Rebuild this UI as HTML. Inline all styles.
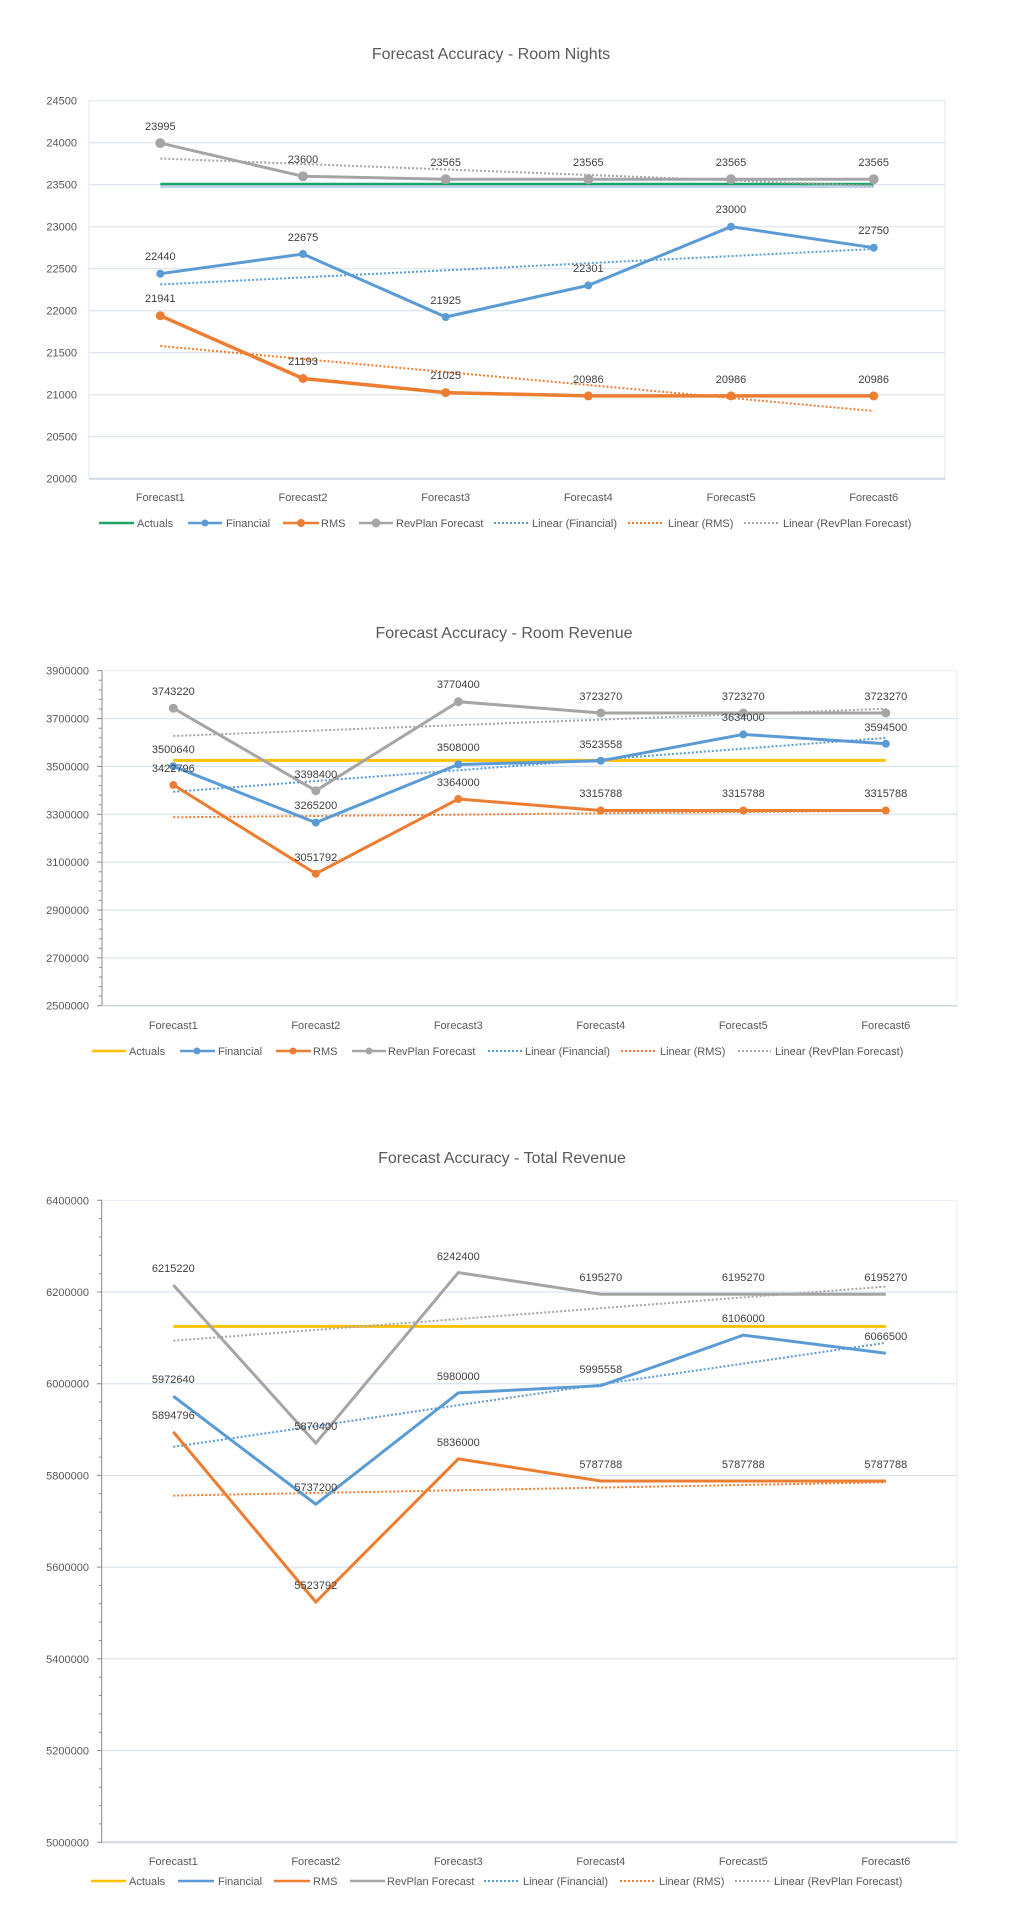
<!DOCTYPE html>
<html><head><meta charset="utf-8"><style>
html,body{margin:0;padding:0;background:#fff}
svg{display:block}
text{font-family:"Liberation Sans",sans-serif}
.t{font-size:16px;fill:#595959;text-anchor:middle}
.ax{font-size:11px;fill:#595959;text-anchor:end}
.cat{font-size:11px;fill:#595959;text-anchor:middle}
.lg{font-size:11px;fill:#595959}
.dl{font-size:11px;fill:#404040;text-anchor:middle}
.g{stroke:#d3dfee;stroke-width:1}
</style></head><body>
<svg width="1026" height="1932" viewBox="0 0 1026 1932" xmlns="http://www.w3.org/2000/svg">
<!-- ===== Chart 1 ===== -->
<text class="t" x="491" y="59">Forecast Accuracy - Room Nights</text>
<rect x="89" y="100.7" width="856" height="378" fill="none" stroke="#dde7f3"/>
<g class="g">
<line x1="89" x2="945" y1="142.7" y2="142.7"/><line x1="89" x2="945" y1="184.7" y2="184.7"/>
<line x1="89" x2="945" y1="226.7" y2="226.7"/><line x1="89" x2="945" y1="268.7" y2="268.7"/>
<line x1="89" x2="945" y1="310.7" y2="310.7"/><line x1="89" x2="945" y1="352.7" y2="352.7"/>
<line x1="89" x2="945" y1="394.7" y2="394.7"/><line x1="89" x2="945" y1="436.7" y2="436.7"/>
</g>
<line x1="89" x2="945" y1="478.7" y2="478.7" stroke="#d0d8e4" stroke-width="2"/>
<g class="ax">
<text x="77" y="104.7">24500</text><text x="77" y="146.7">24000</text><text x="77" y="188.7">23500</text>
<text x="77" y="230.7">23000</text><text x="77" y="272.7">22500</text><text x="77" y="314.7">22000</text>
<text x="77" y="356.7">21500</text><text x="77" y="398.7">21000</text><text x="77" y="440.7">20500</text>
<text x="77" y="482.7">20000</text>
</g>
<g class="cat">
<text x="160.3" y="501">Forecast1</text><text x="303" y="501">Forecast2</text><text x="445.7" y="501">Forecast3</text>
<text x="588.3" y="501">Forecast4</text><text x="731" y="501">Forecast5</text><text x="873.7" y="501">Forecast6</text>
</g>
<line x1="160.3" x2="873.7" y1="186.5" y2="186.5" stroke="#bcd4ec" stroke-width="3"/>
<line x1="160.3" x2="873.7" y1="184" y2="184" stroke="#21a366" stroke-width="2.5"/>
<g stroke-width="2" stroke-dasharray="2 2" fill="none">
<line x1="160.3" y1="284.5" x2="873.7" y2="249" stroke="#5b9bd5"/>
<line x1="160.3" y1="346" x2="873.7" y2="411" stroke="#ed7d31"/>
<line x1="160.3" y1="158.5" x2="873.7" y2="185.9" stroke="#a5a5a5"/>
</g>
<polyline fill="none" stroke="#a5a5a5" stroke-width="3" points="160.3,143.1 303,176.3 445.7,179.2 588.3,179.2 731,179.2 873.7,179.2"/>
<g fill="#a5a5a5"><circle cx="160.3" cy="143.1" r="5"/><circle cx="303" cy="176.3" r="5"/><circle cx="445.7" cy="179.2" r="5"/><circle cx="588.3" cy="179.2" r="5"/><circle cx="731" cy="179.2" r="5"/><circle cx="873.7" cy="179.2" r="5"/></g>
<polyline fill="none" stroke="#5b9bd5" stroke-width="3" points="160.3,273.7 303,254 445.7,317 588.3,285.4 731,226.7 873.7,247.7"/>
<g fill="#5b9bd5"><circle cx="160.3" cy="273.7" r="4"/><circle cx="303" cy="254" r="4"/><circle cx="445.7" cy="317" r="4"/><circle cx="588.3" cy="285.4" r="4"/><circle cx="731" cy="226.7" r="4"/><circle cx="873.7" cy="247.7" r="4"/></g>
<polyline fill="none" stroke="#ed7d31" stroke-width="3.5" points="160.3,315.7 303,378.5 445.7,392.6 588.3,395.9 731,395.9 873.7,395.9"/>
<g fill="#ed7d31"><circle cx="160.3" cy="315.7" r="4.5"/><circle cx="303" cy="378.5" r="4.5"/><circle cx="445.7" cy="392.6" r="4.5"/><circle cx="588.3" cy="395.9" r="4.5"/><circle cx="731" cy="395.9" r="4.5"/><circle cx="873.7" cy="395.9" r="4.5"/></g>
<g class="dl">
<text x="160.3" y="130">23995</text><text x="303" y="163">23600</text><text x="445.7" y="166">23565</text><text x="588.3" y="166">23565</text><text x="731" y="166">23565</text><text x="873.7" y="166">23565</text>
<text x="160.3" y="260">22440</text><text x="303" y="241">22675</text><text x="445.7" y="304">21925</text><text x="588.3" y="272">22301</text><text x="731" y="213">23000</text><text x="873.7" y="234">22750</text>
<text x="160.3" y="302">21941</text><text x="303" y="365">21193</text><text x="445.7" y="379">21025</text><text x="588.3" y="383">20986</text><text x="731" y="383">20986</text><text x="873.7" y="383">20986</text>
</g>
<!-- legend 1 -->
<line x1="99" x2="134" y1="523" y2="523" stroke="#21a366" stroke-width="2.5"/><text class="lg" x="137" y="527">Actuals</text>
<line x1="188" x2="222" y1="523" y2="523" stroke="#5b9bd5" stroke-width="2.5"/><circle cx="205" cy="523" r="3.5" fill="#5b9bd5"/><text class="lg" x="226" y="527">Financial</text>
<line x1="283" x2="319" y1="523" y2="523" stroke="#ed7d31" stroke-width="2.5"/><circle cx="301" cy="523" r="4" fill="#ed7d31"/><text class="lg" x="321" y="527">RMS</text>
<line x1="359" x2="393" y1="523" y2="523" stroke="#a5a5a5" stroke-width="2.5"/><circle cx="376" cy="523" r="4.5" fill="#a5a5a5"/><text class="lg" x="396" y="527">RevPlan Forecast</text>
<line x1="494" x2="529" y1="523" y2="523" stroke="#5b9bd5" stroke-width="2" stroke-dasharray="2 2"/><text class="lg" x="532" y="527">Linear (Financial)</text>
<line x1="628" x2="664" y1="523" y2="523" stroke="#ed7d31" stroke-width="2" stroke-dasharray="2 2"/><text class="lg" x="668" y="527">Linear (RMS)</text>
<line x1="744" x2="779" y1="523" y2="523" stroke="#a5a5a5" stroke-width="2" stroke-dasharray="2 2"/><text class="lg" x="783" y="527">Linear (RevPlan Forecast)</text>

<!-- ===== Chart 2 ===== -->
<text class="t" x="504" y="638">Forecast Accuracy - Room Revenue</text>
<rect x="102" y="670.7" width="855" height="335" fill="none" stroke="#e6edf6"/>
<g class="g">
<line x1="102" x2="957" y1="718.6" y2="718.6"/><line x1="102" x2="957" y1="766.4" y2="766.4"/>
<line x1="102" x2="957" y1="814.3" y2="814.3"/><line x1="102" x2="957" y1="862.1" y2="862.1"/>
<line x1="102" x2="957" y1="910" y2="910"/><line x1="102" x2="957" y1="957.9" y2="957.9"/>
</g>
<line x1="102" x2="957" y1="1005.7" y2="1005.7" stroke="#d0d8e4" stroke-width="1.5"/>
<line x1="102" x2="102" y1="670.7" y2="1005.7" stroke="#8c8c8c"/>
<g stroke="#8c8c8c">
<line x1="97" x2="102" y1="670.7" y2="670.7"/><line x1="97" x2="102" y1="718.6" y2="718.6"/><line x1="97" x2="102" y1="766.4" y2="766.4"/><line x1="97" x2="102" y1="814.3" y2="814.3"/><line x1="97" x2="102" y1="862.1" y2="862.1"/><line x1="97" x2="102" y1="910" y2="910"/><line x1="97" x2="102" y1="957.9" y2="957.9"/><line x1="97" x2="102" y1="1005.7" y2="1005.7"/>
</g>
<g stroke="#8c8c8c" stroke-width="1">
<path d="M99 680.3h3M99 689.9h3M99 699.4h3M99 709h3M99 728.2h3M99 737.7h3M99 747.3h3M99 756.9h3M99 776h3M99 785.6h3M99 795.1h3M99 804.7h3M99 823.9h3M99 833.4h3M99 843h3M99 852.6h3M99 871.7h3M99 881.3h3M99 890.9h3M99 900.4h3M99 919.6h3M99 929.1h3M99 938.7h3M99 948.3h3M99 967.4h3M99 977h3M99 986.6h3M99 996.1h3"/>
</g>
<g class="ax">
<text x="89" y="674.7">3900000</text><text x="89" y="722.6">3700000</text><text x="89" y="770.4">3500000</text>
<text x="89" y="818.3">3300000</text><text x="89" y="866.1">3100000</text><text x="89" y="914">2900000</text>
<text x="89" y="961.9">2700000</text><text x="89" y="1009.7">2500000</text>
</g>
<g class="cat">
<text x="173.3" y="1029">Forecast1</text><text x="315.8" y="1029">Forecast2</text><text x="458.3" y="1029">Forecast3</text>
<text x="600.8" y="1029">Forecast4</text><text x="743.3" y="1029">Forecast5</text><text x="885.8" y="1029">Forecast6</text>
</g>
<line x1="173.3" x2="885.8" y1="760.4" y2="760.4" stroke="#ffc000" stroke-width="3"/>
<g stroke-width="2" stroke-dasharray="2 2" fill="none">
<line x1="173.3" y1="791.8" x2="885.8" y2="737.9" stroke="#5b9bd5"/>
<line x1="173.3" y1="817.3" x2="885.8" y2="810.7" stroke="#ed7d31"/>
<line x1="173.3" y1="736" x2="885.8" y2="708.7" stroke="#a5a5a5"/>
</g>
<polyline fill="none" stroke="#a5a5a5" stroke-width="3" points="173.3,708.2 315.8,790.7 458.3,701.7 600.8,713 743.3,713 885.8,713"/>
<g fill="#a5a5a5"><circle cx="173.3" cy="708.2" r="4.5"/><circle cx="315.8" cy="790.7" r="4.5"/><circle cx="458.3" cy="701.7" r="4.5"/><circle cx="600.8" cy="713" r="4.5"/><circle cx="743.3" cy="713" r="4.5"/><circle cx="885.8" cy="713" r="4.5"/></g>
<polyline fill="none" stroke="#5b9bd5" stroke-width="3" points="173.3,766.3 315.8,822.6 458.3,764.5 600.8,760.8 743.3,734.4 885.8,743.8"/>
<g fill="#5b9bd5"><circle cx="173.3" cy="766.3" r="4"/><circle cx="315.8" cy="822.6" r="4"/><circle cx="458.3" cy="764.5" r="4"/><circle cx="600.8" cy="760.8" r="4"/><circle cx="743.3" cy="734.4" r="4"/><circle cx="885.8" cy="743.8" r="4"/></g>
<polyline fill="none" stroke="#ed7d31" stroke-width="3" points="173.3,784.9 315.8,873.7 458.3,799 600.8,810.5 743.3,810.5 885.8,810.5"/>
<g fill="#ed7d31"><circle cx="173.3" cy="784.9" r="4"/><circle cx="315.8" cy="873.7" r="4"/><circle cx="458.3" cy="799" r="4"/><circle cx="600.8" cy="810.5" r="4"/><circle cx="743.3" cy="810.5" r="4"/><circle cx="885.8" cy="810.5" r="4"/></g>
<g class="dl">
<text x="173.3" y="695">3743220</text><text x="315.8" y="778">3398400</text><text x="458.3" y="688">3770400</text><text x="600.8" y="700">3723270</text><text x="743.3" y="700">3723270</text><text x="885.8" y="700">3723270</text>
<text x="173.3" y="753">3500640</text><text x="315.8" y="809">3265200</text><text x="458.3" y="751">3508000</text><text x="600.8" y="748">3523558</text><text x="743.3" y="721">3634000</text><text x="885.8" y="731">3594500</text>
<text x="173.3" y="772">3422796</text><text x="315.8" y="861">3051792</text><text x="458.3" y="786">3364000</text><text x="600.8" y="797">3315788</text><text x="743.3" y="797">3315788</text><text x="885.8" y="797">3315788</text>
</g>
<!-- legend 2 -->
<line x1="92" x2="126" y1="1051" y2="1051" stroke="#ffc000" stroke-width="2.5"/><text class="lg" x="129" y="1055">Actuals</text>
<line x1="180" x2="215" y1="1051" y2="1051" stroke="#5b9bd5" stroke-width="2.5"/><circle cx="197" cy="1051" r="3.5" fill="#5b9bd5"/><text class="lg" x="218" y="1055">Financial</text>
<line x1="276" x2="311" y1="1051" y2="1051" stroke="#ed7d31" stroke-width="2.5"/><circle cx="293" cy="1051" r="3.5" fill="#ed7d31"/><text class="lg" x="313" y="1055">RMS</text>
<line x1="352" x2="386" y1="1051" y2="1051" stroke="#a5a5a5" stroke-width="2.5"/><circle cx="369" cy="1051" r="3.5" fill="#a5a5a5"/><text class="lg" x="388" y="1055">RevPlan Forecast</text>
<line x1="488" x2="522" y1="1051" y2="1051" stroke="#5b9bd5" stroke-width="2" stroke-dasharray="2 2"/><text class="lg" x="525" y="1055">Linear (Financial)</text>
<line x1="621" x2="655" y1="1051" y2="1051" stroke="#ed7d31" stroke-width="2" stroke-dasharray="2 2"/><text class="lg" x="660" y="1055">Linear (RMS)</text>
<line x1="738" x2="771" y1="1051" y2="1051" stroke="#a5a5a5" stroke-width="2" stroke-dasharray="2 2"/><text class="lg" x="775" y="1055">Linear (RevPlan Forecast)</text>

<!-- ===== Chart 3 ===== -->
<text class="t" x="502" y="1163">Forecast Accuracy - Total Revenue</text>
<rect x="101.7" y="1200.3" width="855.3" height="642" fill="none" stroke="#e6edf6"/>
<g class="g">
<line x1="102" x2="957" y1="1292" y2="1292"/><line x1="102" x2="957" y1="1383.7" y2="1383.7"/>
<line x1="102" x2="957" y1="1475.4" y2="1475.4"/><line x1="102" x2="957" y1="1567.1" y2="1567.1"/>
<line x1="102" x2="957" y1="1658.8" y2="1658.8"/><line x1="102" x2="957" y1="1750.6" y2="1750.6"/>
</g>
<line x1="102" x2="957" y1="1842.3" y2="1842.3" stroke="#d0d8e4" stroke-width="2"/>
<line x1="101.7" x2="101.7" y1="1200.3" y2="1842.3" stroke="#8c8c8c"/>
<g stroke="#8c8c8c">
<path d="M97 1200.3h5M97 1292h5M97 1383.7h5M97 1475.4h5M97 1567.1h5M97 1658.8h5M97 1750.6h5M97 1842.3h5"/>
<path d="M99 1218.6h3M99 1237h3M99 1255.3h3M99 1273.7h3M99 1310.3h3M99 1328.7h3M99 1347h3M99 1365.4h3M99 1402h3M99 1420.4h3M99 1438.7h3M99 1457.1h3M99 1493.7h3M99 1512.1h3M99 1530.4h3M99 1548.8h3M99 1585.4h3M99 1603.8h3M99 1622.1h3M99 1640.5h3M99 1677.2h3M99 1695.5h3M99 1713.9h3M99 1732.2h3M99 1768.9h3M99 1787.2h3M99 1805.6h3M99 1823.9h3"/>
</g>
<g class="ax">
<text x="89" y="1204.3">6400000</text><text x="89" y="1296">6200000</text><text x="89" y="1387.7">6000000</text>
<text x="89" y="1479.4">5800000</text><text x="89" y="1571.1">5600000</text><text x="89" y="1662.8">5400000</text>
<text x="89" y="1754.6">5200000</text><text x="89" y="1846.3">5000000</text>
</g>
<g class="cat">
<text x="173.3" y="1865">Forecast1</text><text x="315.8" y="1865">Forecast2</text><text x="458.3" y="1865">Forecast3</text>
<text x="600.8" y="1865">Forecast4</text><text x="743.3" y="1865">Forecast5</text><text x="885.8" y="1865">Forecast6</text>
</g>
<line x1="173.3" x2="885.8" y1="1326.4" y2="1326.4" stroke="#ffc000" stroke-width="3"/>
<g stroke-width="2" stroke-dasharray="2 2" fill="none">
<line x1="173.3" y1="1446.8" x2="885.8" y2="1342.8" stroke="#5b9bd5"/>
<line x1="173.3" y1="1495.6" x2="885.8" y2="1482.3" stroke="#ed7d31"/>
<line x1="173.3" y1="1340.7" x2="885.8" y2="1286.6" stroke="#a5a5a5"/>
</g>
<polyline fill="none" stroke="#a5a5a5" stroke-width="3" points="173.3,1285 315.8,1443.1 458.3,1272.6 600.8,1294.2 743.3,1294.2 885.8,1294.2"/>
<polyline fill="none" stroke="#5b9bd5" stroke-width="3" points="173.3,1396.2 315.8,1504.2 458.3,1392.9 600.8,1385.7 743.3,1335.1 885.8,1353.2"/>
<polyline fill="none" stroke="#ed7d31" stroke-width="3" points="173.3,1431.9 315.8,1602 458.3,1458.9 600.8,1481 743.3,1481 885.8,1481"/>
<g class="dl">
<text x="173.3" y="1272">6215220</text><text x="315.8" y="1430">5870400</text><text x="458.3" y="1260">6242400</text><text x="600.8" y="1281">6195270</text><text x="743.3" y="1281">6195270</text><text x="885.8" y="1281">6195270</text>
<text x="173.3" y="1383">5972640</text><text x="315.8" y="1491">5737200</text><text x="458.3" y="1380">5980000</text><text x="600.8" y="1373">5995558</text><text x="743.3" y="1322">6106000</text><text x="885.8" y="1340">6066500</text>
<text x="173.3" y="1419">5894796</text><text x="315.8" y="1589">5523792</text><text x="458.3" y="1446">5836000</text><text x="600.8" y="1468">5787788</text><text x="743.3" y="1468">5787788</text><text x="885.8" y="1468">5787788</text>
</g>
<!-- legend 3 -->
<line x1="91" x2="126" y1="1881" y2="1881" stroke="#ffc000" stroke-width="2.5"/><text class="lg" x="129" y="1885">Actuals</text>
<line x1="178" x2="214" y1="1881" y2="1881" stroke="#5b9bd5" stroke-width="2.5"/><text class="lg" x="218" y="1885">Financial</text>
<line x1="274" x2="310" y1="1881" y2="1881" stroke="#ed7d31" stroke-width="2.5"/><text class="lg" x="313" y="1885">RMS</text>
<line x1="350" x2="385" y1="1881" y2="1881" stroke="#a5a5a5" stroke-width="2.5"/><text class="lg" x="387" y="1885">RevPlan Forecast</text>
<line x1="484" x2="520" y1="1881" y2="1881" stroke="#5b9bd5" stroke-width="2" stroke-dasharray="2 2"/><text class="lg" x="523" y="1885">Linear (Financial)</text>
<line x1="620" x2="655" y1="1881" y2="1881" stroke="#ed7d31" stroke-width="2" stroke-dasharray="2 2"/><text class="lg" x="659" y="1885">Linear (RMS)</text>
<line x1="735" x2="770" y1="1881" y2="1881" stroke="#a5a5a5" stroke-width="2" stroke-dasharray="2 2"/><text class="lg" x="774" y="1885">Linear (RevPlan Forecast)</text>
</svg>
</body></html>
